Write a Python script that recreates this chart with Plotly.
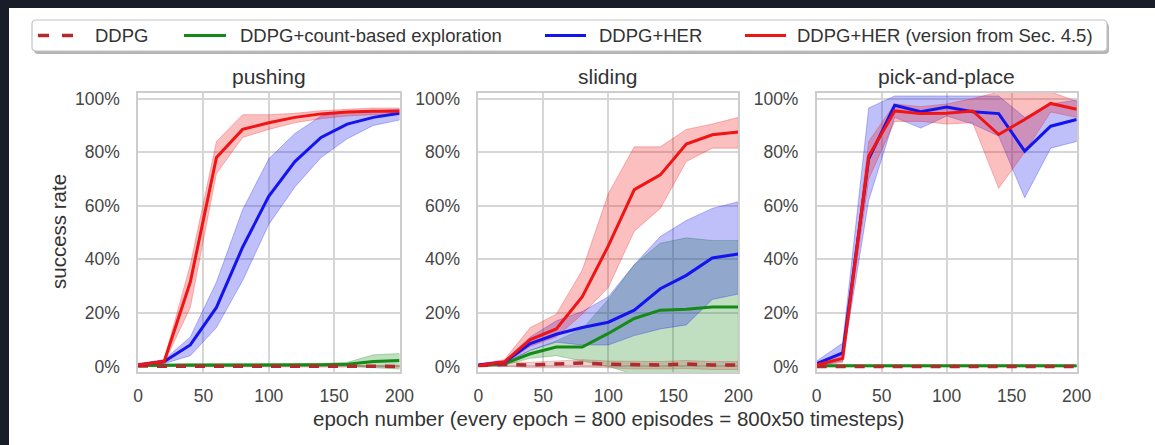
import plotly.graph_objects as go

W, H = 1155, 445

# ---------------- data (success rate in %) ----------------
epochs = [0, 20, 40, 60, 80, 100, 120, 140, 160, 180, 200]

series_names = ["DDPG", "DDPG+count-based exploration", "DDPG+HER",
                "DDPG+HER (version from Sec. 4.5)"]
panel_titles = ["pushing", "sliding", "pick-and-place"]
x_ticks = [0, 50, 100, 150, 200]
y_ticks = [0, 20, 40, 60, 80, 100]
y_tick_labels = ["0%", "20%", "40%", "60%", "80%", "100%"]

# pushing
push_ddpg = [0.1, 0.1, 0.0, 0.0, 0.0, 0.0, 0.0, 0.0, 0.0, 0.0, 0.0]
push_ddpg_lo = [0.0, 0.0, -0.2, -0.2, -0.2, -0.2, -0.2, -0.2, -0.2, -0.3, -0.3]
push_ddpg_hi = [0.3, 0.3, 0.2, 0.2, 0.2, 0.2, 0.2, 0.2, 0.2, 0.3, 0.3]
push_count = [0.3, 0.5, 0.5, 0.5, 0.5, 0.5, 0.6, 0.6, 0.8, 1.8, 2.2]
push_count_lo = [0.0, 0.1, 0.1, 0.1, 0.1, 0.1, 0.2, 0.2, 0.2, -0.5, -1.0]
push_count_hi = [0.6, 0.9, 0.9, 0.9, 0.9, 0.9, 1.0, 1.1, 1.5, 4.3, 4.8]
push_her = [0.5, 1.8, 8.0, 22.0, 44.5, 63.5, 76.5, 85.5, 90.5, 93.0, 94.5]
push_her_lo = [0.0, 1.0, 4.0, 14.5, 32.0, 53.0, 67.0, 78.0, 85.0, 90.0, 92.0]
push_her_hi = [1.0, 2.5, 11.0, 31.5, 58.5, 77.5, 87.0, 93.5, 95.0, 95.5, 96.0]
push_her45 = [0.5, 1.8, 31.5, 78.0, 88.5, 91.0, 93.0, 94.3, 95.0, 95.3, 95.3]
push_her45_lo = [0.0, 1.2, 22.0, 72.0, 85.5, 88.5, 91.0, 92.5, 93.5, 94.0, 94.0]
push_her45_hi = [1.0, 2.5, 38.0, 84.0, 94.0, 94.0, 94.5, 95.5, 96.0, 96.5, 96.5]

# sliding
slide_ddpg = [0.3, 0.7, 0.5, 0.9, 1.3, 0.8, 0.5, 0.5, 0.9, 0.5, 0.5]
slide_ddpg_lo = [0.0, 0.0, -0.5, -0.5, -0.3, -0.5, -1.0, -1.0, -0.8, -1.2, -1.2]
slide_ddpg_hi = [0.6, 1.5, 1.5, 2.0, 2.5, 2.0, 1.8, 1.8, 2.2, 1.8, 1.8]
slide_count = [0.3, 1.0, 4.7, 7.2, 7.2, 12.3, 17.9, 21.0, 21.3, 22.2, 22.2]
slide_count_lo = [0.0, 0.5, 3.0, 4.0, 2.0, 0.0, -3.0, -3.0, -3.0, -3.0, -3.0]
slide_count_hi = [0.6, 1.5, 6.0, 9.5, 14.0, 25.0, 38.0, 46.0, 48.0, 47.0, 47.0]
slide_her = [0.5, 1.5, 8.5, 12.0, 14.5, 16.5, 21.0, 29.0, 34.0, 40.5, 42.0]
slide_her_lo = [0.0, 0.8, 6.0, 9.0, 8.0, 8.0, 11.5, 14.0, 15.5, 25.0, 27.0]
slide_her_hi = [1.0, 2.2, 11.0, 17.0, 20.5, 26.0, 38.0, 48.5, 54.5, 59.0, 61.5]
slide_her45 = [0.3, 1.6, 10.0, 14.0, 26.0, 45.0, 66.0, 71.5, 83.0, 86.5, 87.5]
slide_her45_lo = [0.0, 1.0, 7.5, 11.0, 19.5, 29.5, 50.5, 59.0, 76.5, 81.5, 81.5]
slide_her45_hi = [0.8, 2.5, 14.5, 19.5, 36.0, 64.5, 82.0, 82.0, 88.5, 90.5, 93.0]

# pick-and-place
pnp_ddpg = [0.0, 0.0, 0.0, 0.0, 0.0, 0.0, 0.0, 0.0, 0.0, 0.0, 0.0]
pnp_ddpg_lo = [-0.2, -0.2, -0.2, -0.2, -0.2, -0.2, -0.2, -0.2, -0.2, -0.2, -0.2]
pnp_ddpg_hi = [0.2, 0.2, 0.2, 0.2, 0.2, 0.2, 0.2, 0.2, 0.2, 0.2, 0.2]
pnp_count = [0.2, 0.3, 0.2, 0.2, 0.2, 0.2, 0.2, 0.2, 0.2, 0.2, 0.2]
pnp_count_lo = [0.0, 0.0, 0.0, 0.0, 0.0, 0.0, 0.0, 0.0, 0.0, 0.0, 0.0]
pnp_count_hi = [0.4, 0.6, 0.4, 0.4, 0.4, 0.4, 0.4, 0.4, 0.4, 0.4, 0.4]
pnp_her = [1.0, 5.0, 77.5, 97.5, 95.1, 96.9, 95.1, 94.4, 80.4, 89.7, 92.2]
pnp_her_lo = [0.0, 2.0, 62.0, 93.0, 89.0, 93.5, 90.5, 86.0, 63.0, 81.5, 84.0]
pnp_her_hi = [2.0, 8.7, 96.5, 101.0, 101.0, 101.0, 101.0, 101.0, 93.0, 98.0, 99.5]
pnp_her45 = [0.5, 3.0, 78.5, 95.4, 94.4, 94.5, 95.4, 86.6, 92.2, 98.2, 96.0]
pnp_her45_lo = [0.0, 1.5, 70.0, 91.5, 91.5, 90.5, 91.0, 66.5, 80.0, 95.0, 93.0]
pnp_her45_hi = [1.0, 5.0, 84.0, 98.0, 97.0, 98.0, 100.0, 102.5, 102.5, 102.5, 99.0]

panels = [
    [(push_ddpg, push_ddpg_lo, push_ddpg_hi),
     (push_count, push_count_lo, push_count_hi),
     (push_her, push_her_lo, push_her_hi),
     (push_her45, push_her45_lo, push_her45_hi)],
    [(slide_ddpg, slide_ddpg_lo, slide_ddpg_hi),
     (slide_count, slide_count_lo, slide_count_hi),
     (slide_her, slide_her_lo, slide_her_hi),
     (slide_her45, slide_her45_lo, slide_her45_hi)],
    [(pnp_ddpg, pnp_ddpg_lo, pnp_ddpg_hi),
     (pnp_count, pnp_count_lo, pnp_count_hi),
     (pnp_her, pnp_her_lo, pnp_her_hi),
     (pnp_her45, pnp_her45_lo, pnp_her45_hi)],
]

# ---------------- styling ----------------
FONT = "Liberation Sans, Arial, Helvetica, sans-serif"
line_colors = ["#b02a2e", "#168a16", "#1414ee", "#f01414"]
band_fills = ["rgba(190,40,45,0.20)", "rgba(22,138,22,0.27)",
              "rgba(20,20,238,0.27)", "rgba(240,20,20,0.27)"]
band_edges = ["rgba(190,40,45,0.30)", "rgba(22,138,22,0.35)",
              "rgba(20,20,238,0.35)", "rgba(240,20,20,0.35)"]
line_dash = ["10px,9px", "solid", "solid", "solid"]
line_width = [3.5, 3, 3, 3]
draw_order = [1, 0, 2, 3]

# subplot frames in pixels: (left, right); shared top/bottom
x_frames = [(138.0, 399.5), (478.3, 738.3), (816.7, 1076.7)]
y_top, y_bot = 93.0, 372.0


def fx(px):
    return px / W


def fy(py):
    return 1 - py / H


fig = go.Figure()

for i, series in enumerate(panels):
    sfx = "" if i == 0 else str(i + 1)
    xa, ya = "x" + sfx, "y" + sfx
    for k in draw_order:
        mean, lo, hi = series[k]
        fig.add_trace(go.Scatter(
            x=epochs + epochs[::-1], y=hi + lo[::-1], fill="toself",
            fillcolor=band_fills[k], mode="lines",
            line=dict(color=band_edges[k], width=0.8),
            hoverinfo="skip", showlegend=False, xaxis=xa, yaxis=ya))
    for k in draw_order:
        mean, lo, hi = series[k]
        fig.add_trace(go.Scatter(
            x=epochs, y=mean, mode="lines", name=series_names[k],
            line=dict(color=line_colors[k], width=line_width[k],
                      dash=line_dash[k]),
            showlegend=False, xaxis=xa, yaxis=ya))

axis_common = dict(
    showgrid=True, gridcolor="#d6d6d6", gridwidth=1.5,
    showline=True, linecolor="#cdcdcd", linewidth=1.5, mirror=True,
    zeroline=False, ticks="", automargin=False,
    tickfont=dict(family=FONT, size=17.5, color="#454545"),
)

layout_axes = {}
for i, (l, r) in enumerate(x_frames):
    sfx = "" if i == 0 else str(i + 1)
    layout_axes["xaxis" + sfx] = dict(
        axis_common, domain=[fx(l), fx(r)], range=[0, 200],
        tickvals=x_ticks, ticklabelstandoff=7,
        anchor="y" + sfx)
    layout_axes["yaxis" + sfx] = dict(
        axis_common, domain=[fy(y_bot), fy(y_top)], range=[-2.1, 102.1],
        tickvals=y_ticks, ticktext=y_tick_labels, ticklabelstandoff=13,
        anchor="x" + sfx)

annotations = []
for i, (l, r) in enumerate(x_frames):
    annotations.append(dict(
        text=panel_titles[i], x=fx((l + r) / 2), y=fy(77), xref="paper", yref="paper",
        xanchor="center", yanchor="middle", showarrow=False,
        font=dict(family=FONT, size=21, color="#333333")))
annotations.append(dict(
    text="success rate", x=fx(58), y=fy(232), xref="paper", yref="paper",
    textangle=-90, xanchor="center", yanchor="middle", showarrow=False,
    font=dict(family=FONT, size=20.5, color="#333333")))
annotations.append(dict(
    text="epoch number (every epoch = 800 episodes = 800x50 timesteps)",
    x=fx(608), y=fy(418), xref="paper", yref="paper",
    xanchor="center", yanchor="middle", showarrow=False,
    font=dict(family=FONT, size=20.5, color="#333333")))

# legend box drawn by hand (rounded frame with a soft drop shadow)
LEG_L, LEG_R, LEG_T, LEG_B, RAD = 32, 1107, 20, 51, 4


def rounded_rect(l, t, r, b, rad):
    return (f"M {fx(l + rad)},{fy(t)} L {fx(r - rad)},{fy(t)} "
            f"Q {fx(r)},{fy(t)} {fx(r)},{fy(t + rad)} L {fx(r)},{fy(b - rad)} "
            f"Q {fx(r)},{fy(b)} {fx(r - rad)},{fy(b)} L {fx(l + rad)},{fy(b)} "
            f"Q {fx(l)},{fy(b)} {fx(l)},{fy(b - rad)} L {fx(l)},{fy(t + rad)} "
            f"Q {fx(l)},{fy(t)} {fx(l + rad)},{fy(t)} Z")


shapes = [
    # dark surround of the white canvas
    dict(type="rect", xref="paper", yref="paper", x0=fx(9), x1=1.0, y0=0.0, y1=fy(8),
         fillcolor="white", line=dict(width=0), layer="below"),
    dict(type="path", xref="paper", yref="paper",
         path=rounded_rect(LEG_L + 2, LEG_T + 3, LEG_R + 2, LEG_B + 3, RAD),
         fillcolor="rgba(120,120,120,0.55)", line=dict(width=0), layer="above"),
    dict(type="path", xref="paper", yref="paper",
         path=rounded_rect(LEG_L, LEG_T, LEG_R, LEG_B, RAD),
         fillcolor="white", line=dict(color="#c4c4c4", width=1.2), layer="above"),
]

legend_y = 35.5
legend_samples = [(38, 73), (184, 226), (545, 586), (745, 786)]
legend_text_x = [93, 238, 597, 795]
for k in range(4):
    x0, x1 = legend_samples[k]
    shapes.append(dict(
        type="line", xref="paper", yref="paper", x0=fx(x0), x1=fx(x1),
        y0=fy(legend_y), y1=fy(legend_y),
        line=dict(color=line_colors[k], width=3.5 if k == 0 else 3,
                  dash="11px,13px" if k == 0 else "solid"),
        layer="above"))
    annotations.append(dict(
        text=series_names[k], x=fx(legend_text_x[k]), y=fy(legend_y),
        xref="paper", yref="paper", xanchor="left", yanchor="middle",
        showarrow=False, font=dict(family=FONT, size=18.5, color="#333333")))

fig.update_layout(
    width=W, height=H,
    margin=dict(l=0, r=0, t=0, b=0, pad=0, autoexpand=False),
    paper_bgcolor="#181d27", plot_bgcolor="white",
    showlegend=False, annotations=annotations, shapes=shapes,
    **layout_axes,
)

fig.write_html("out.html", config={"displayModeBar": False})
